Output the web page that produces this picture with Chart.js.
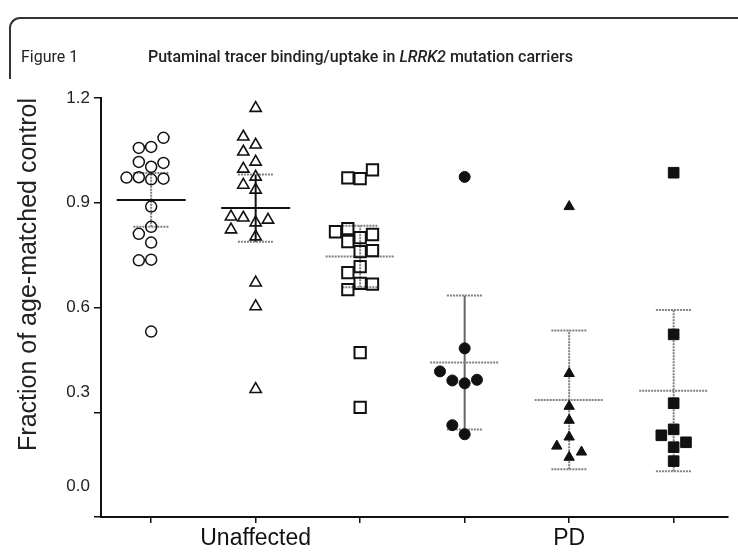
<!DOCTYPE html>
<html>
<head>
<meta charset="utf-8">
<script src="https://cdn.jsdelivr.net/npm/chart.js@4.4.1/dist/chart.umd.min.js"></script>
<style>
  body { margin: 0; background: #fff; }
  #wrap { position: relative; width: 738px; height: 554px; overflow: hidden; background: #fff; }
  canvas { position: absolute; left: 0; top: 0; }
  #frame { position: absolute; left: 9px; top: 17px; width: 760px; height: 60px;
           border-top: 2px solid #333; border-left: 2px solid #333; border-top-left-radius: 11px; }
  .hdr { position: absolute; top: 47px; font-family: Roboto, sans-serif; font-size: 16px; color: #222; white-space: nowrap; }
  #fig { left: 21px; }
  #ttl { left: 148px; font-weight: 500; }
</style>
</head>
<body>
<div id="wrap">
  <canvas id="chart" width="738" height="554"></canvas>
  <div id="frame"></div>
  <div class="hdr" id="fig">Figure 1</div>
  <div class="hdr" id="ttl">Putaminal tracer binding/uptake in <i>LRRK2</i> mutation carriers</div>
</div>
<script>
// x positions 1..6, only two of them carry a label
var xLabels = ['', 'Unaffected', '', '', 'PD', ''];
var yTicks = [0, 0.3, 0.6, 0.9, 1.2];

// values (fraction of age-matched control)
var unaffectedCircle = [1.06, 1.057, 1.086, 1.003, 1.017, 1.014, 0.973, 0.969, 0.972, 0.967, 0.889, 0.831, 0.811, 0.786, 0.737, 0.735, 0.531];
var unaffectedTriangle = [1.171, 1.066, 1.089, 1.046, 1.017, 0.997, 0.974, 0.951, 0.937, 0.843, 0.857, 0.851, 0.86, 0.823, 0.803, 0.671, 0.603, 0.366];
var unaffectedSquare = [0.969, 0.971, 0.994, 0.8, 0.789, 0.809, 0.817, 0.826, 0.76, 0.763, 0.717, 0.7, 0.669, 0.667, 0.651, 0.471, 0.314];
var pdCircle = [0.974, 0.483, 0.383, 0.391, 0.393, 0.417, 0.237, 0.263];
var pdTriangle = [0.889, 0.411, 0.317, 0.277, 0.171, 0.229, 0.203, 0.186];
var pdSquare = [0.986, 0.523, 0.326, 0.16, 0.2, 0.251, 0.234, 0.214];

// two-sided 95% t quantiles by degrees of freedom
var tCrit = {7: 2.365, 16: 2.120, 17: 2.110};

var grey = '#808080';
var groups = [
  {values: unaffectedCircle, shape: 'circle', filled: false, r: 5.5, bw: 1.5, mean: '#111', cap: grey, stem: grey},
  {values: unaffectedTriangle, shape: 'triangle', filled: false, r: 6.5, bw: 1.6, mean: '#111', cap: grey, stem: '#111'},
  {values: unaffectedSquare, shape: 'rect', filled: false, r: 8, bw: 2, mean: grey, cap: grey, stem: grey},
  {values: pdCircle, shape: 'circle', filled: true, r: 5.5, bw: 1, mean: grey, cap: grey, stem: '#666'},
  {values: pdTriangle, shape: 'triangle', filled: true, r: 6, bw: 1, mean: grey, cap: grey, stem: grey},
  {values: pdSquare, shape: 'rect', filled: true, r: 7.5, bw: 1, mean: grey, cap: grey, stem: grey}
];

function stats(values) {
  var n = values.length;
  var mean = values.reduce((a, b) => a + b, 0) / n;
  var sd = Math.sqrt(values.reduce((a, b) => a + (b - mean) * (b - mean), 0) / (n - 1));
  var ci = tCrit[n - 1] * sd / Math.sqrt(n);
  return {mean: mean, lo: mean - ci, hi: mean + ci};
}

// simple beeswarm: slots 0, -1, 1, -2, 2 ... taken when no close value sits there
function swarm(values, thr) {
  var placed = [];
  return values.map(v => {
    for (var k = 0; ; k++) {
      var slot = k === 0 ? 0 : (k % 2 ? -(k + 1) / 2 : k / 2);
      var clash = placed.some(p => p.slot === slot && Math.abs(p.v - v) < thr);
      if (!clash) {
        placed.push({slot: slot, v: v});
        return slot;
      }
    }
  });
}

var slotWidth = 0.118;
var datasets = [];
groups.forEach((g, i) => {
  var cx = i + 1;
  var slots = swarm(g.values, 0.035);
  var s = stats(g.values);
  datasets.push({
    data: g.values.map((v, j) => ({x: cx + slots[j] * slotWidth, y: v})),
    pointStyle: g.shape,
    pointRadius: g.r,
    pointBorderWidth: g.bw,
    pointBorderColor: '#111',
    pointBackgroundColor: g.filled ? '#111' : 'rgba(0,0,0,0)',
    showLine: false,
    order: 0
  });
  datasets.push({
    data: [{x: cx - 0.33, y: s.mean}, {x: cx + 0.33, y: s.mean}],
    showLine: true, pointRadius: 0, borderColor: g.mean, borderWidth: 2,
    borderDash: g.mean === grey ? [2, 1] : [], order: 1
  });
  datasets.push({
    data: [{x: cx - 0.17, y: s.hi}, {x: cx + 0.17, y: s.hi}, {x: cx, y: null},
           {x: cx - 0.17, y: s.lo}, {x: cx + 0.17, y: s.lo}],
    showLine: true, pointRadius: 0, borderColor: g.cap, borderWidth: 2,
    borderDash: [2, 1], order: 1
  });
  datasets.push({
    data: [{x: cx, y: s.lo}, {x: cx, y: s.hi}],
    showLine: true, pointRadius: 0, borderColor: g.stem, borderWidth: 2,
    borderDash: g.stem === grey ? [2, 1] : [], order: 1
  });
});

// the scanned figure prints the two lowest labels a little above their ticks;
// trailing blank lines lift a label by half a line each
var labelLift = {0: 3, 0.3: 2};
function yLabel(v) {
  var lines = [v.toFixed(1)];
  for (var k = 0; k < (labelLift[v] || 0); k++) lines.push('');
  return lines.length > 1 ? lines : lines[0];
}

Chart.defaults.font.family = "'Liberation Sans', Arial, sans-serif";
Chart.defaults.color = '#222';

const ctx = document.getElementById('chart').getContext('2d');
var chart = new Chart(ctx, {
  type: 'scatter',
  data: { datasets: datasets },
  options: {
    responsive: false,
    animation: false,
    layout: { padding: { top: 98, right: 0, bottom: 0, left: 0 } },
    plugins: {
      legend: { display: false },
      tooltip: { enabled: false }
    },
    scales: {
      x: {
        type: 'linear',
        min: 0.52,
        max: 6.52,
        afterBuildTicks: s => { s.ticks = xLabels.map((_, i) => ({value: i + 1})); },
        afterFit: s => { s.height = 37; },
        grid: { drawOnChartArea: false, drawTicks: true, tickLength: 6, color: '#111', lineWidth: 1.5 },
        border: { display: true, color: '#111', width: 2 },
        ticks: {
          autoSkip: false, maxRotation: 0, padding: 2,
          callback: (v, i) => xLabels[i],
          font: { size: 23 }, color: '#111'
        }
      },
      y: {
        min: 0,
        max: 1.2,
        afterBuildTicks: s => { s.ticks = yTicks.map(v => ({value: v})); },
        afterFit: s => {
          s.width = 101;
          // keep the blank label lines from pushing the plot area up
          s.paddingTop = 0;
          s.paddingBottom = 0;
        },
        grid: { drawOnChartArea: false, drawTicks: true, tickLength: 7, color: '#111', lineWidth: 1.5 },
        border: { display: true, color: '#111', width: 2 },
        ticks: {
          padding: 4,
          callback: v => yLabel(v),
          font: { size: 17 }, color: '#222'
        },
        title: {
          display: true,
          align: 'end',
          text: 'Fraction of age-matched control',
          font: { size: 25 }, color: '#222',
          padding: { top: 14, bottom: 0 }
        }
      }
    }
  }
});
</script>
</body>
</html>
